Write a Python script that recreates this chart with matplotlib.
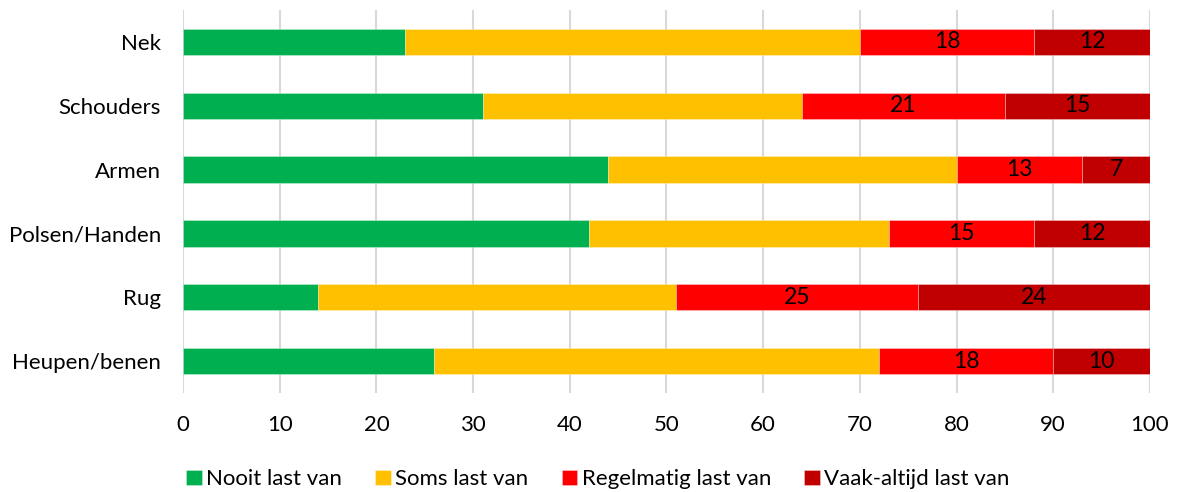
import matplotlib
matplotlib.use("Agg")
import matplotlib.pyplot as plt
import numpy as np

plt.rcParams['font.family'] = ['Lato', 'DejaVu Sans']

categories = ["Nek", "Schouders", "Armen", "Polsen/Handen", "Rug", "Heupen/benen"]
series_names = ["Nooit last van", "Soms last van", "Regelmatig last van", "Vaak-altijd last van"]
nooit = [23, 31, 44, 42, 14, 26]
soms = [47, 33, 36, 31, 37, 46]
regelmatig = [18, 21, 13, 15, 25, 18]
vaak = [12, 15, 7, 12, 24, 10]
colors = ["#00B050", "#FFC000", "#FF0000", "#C00000"]
labelled = [False, False, True, True]
x_ticks = [0, 10, 20, 30, 40, 50, 60, 70, 80, 90, 100]

fig = plt.figure(figsize=(11.77, 4.92), dpi=100)
ax = fig.add_axes([0.1555, 0.201, 0.8215, 0.779])

y = np.arange(len(categories))
left = np.zeros(len(categories))
for vals, name, col, lab in zip([nooit, soms, regelmatig, vaak], series_names, colors, labelled):
    bars = ax.barh(y, vals, left=left, height=0.41, color=col, label=name,
                   edgecolor=(1, 1, 1, 0.35), linewidth=0.6, zorder=3)
    if lab:
        ax.bar_label(bars, labels=[str(v) for v in vals], label_type="center",
                     fontsize=16.5, color="black")
    left += np.array(vals)

ax.set_xlim(0, 100)
ax.set_ylim(len(categories) - 0.5, -0.5)
ax.set_xticks(x_ticks)
ax.set_yticks(y)
ax.set_yticklabels(categories)
ax.tick_params(axis="x", length=0, pad=16, labelsize=16)
ax.tick_params(axis="y", length=0, pad=16, labelsize=16)
ax.grid(axis="x", color="#D9D9D9", linewidth=1.5, zorder=0)
for s in ax.spines.values():
    s.set_visible(False)

fig.legend(loc="center", bbox_to_anchor=(0.508, 0.026), ncol=4, frameon=False,
           fontsize=16, handlelength=0.7, handleheight=0.7, handletextpad=0.2,
           columnspacing=1.5, borderpad=0)

fig.savefig("out.png", dpi=100)
